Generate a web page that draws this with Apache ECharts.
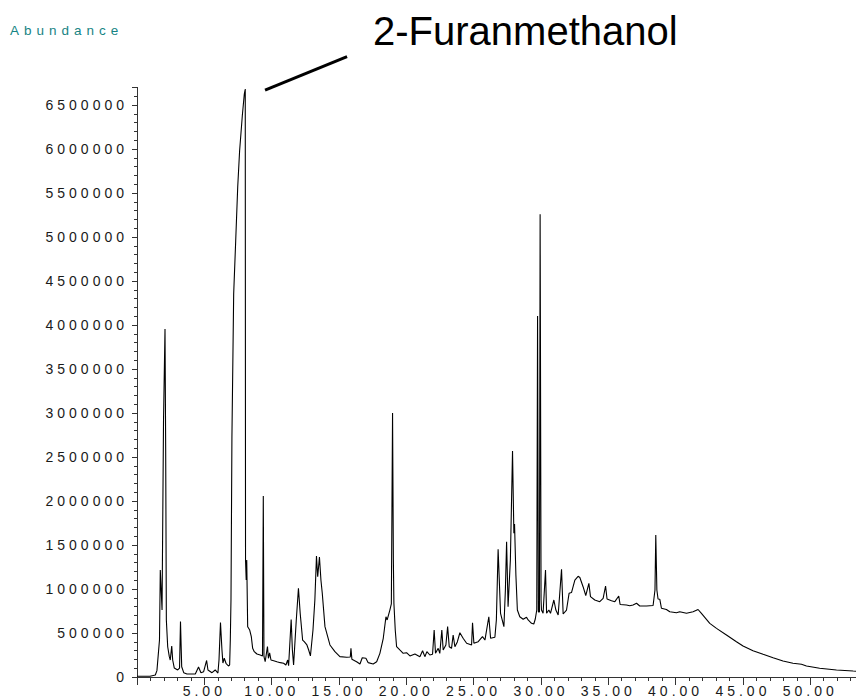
<!DOCTYPE html>
<html>
<head>
<meta charset="utf-8">
<style>
html,body{margin:0;padding:0;background:#fff;}
#main{width:856px;height:700px;}
#main text{letter-spacing:4px;}
#main text[style*="13.5px"]{letter-spacing:5px;}
#main text[style*="40px"]{letter-spacing:0px;}
</style>
<script src="https://cdn.jsdelivr.net/npm/echarts@6/dist/echarts.min.js"></script>
</head>
<body>
<div id="main"></div>
<script>
// Retention time (min)
const times = [
0.00,0.97,1.36,1.48,1.67,1.73,1.86,1.97,2.08,2.13,2.18,2.28,2.40,2.47,2.58,2.65,2.77,3.02,3.16,3.23,
3.32,3.47,3.71,4.33,4.57,4.75,4.95,5.17,5.27,5.57,5.81,6.01,6.09,6.20,6.31,6.38,6.48,6.61,6.79,6.88,
6.93,6.98,7.05,7.18,7.33,7.48,7.62,7.82,7.97,8.04,8.06,8.11,8.15,8.22,8.37,8.49,8.59,8.71,8.91,9.15,
9.32,9.38,9.43,9.52,9.69,9.76,9.85,9.95,10.15,10.39,10.64,10.89,11.06,11.19,11.26,11.45,11.54,11.63,11.83,11.99,
12.12,12.30,12.42,12.62,12.75,12.88,13.07,13.21,13.33,13.42,13.55,13.66,13.76,13.96,14.33,14.70,15.07,15.57,15.84,15.89,
15.96,16.31,16.56,16.73,17.00,17.17,17.54,17.80,18.04,18.29,18.49,18.58,18.78,18.89,18.98,19.04,19.08,19.18,19.28,19.52,
19.77,20.02,20.27,20.64,21.01,21.21,21.38,21.53,21.75,21.95,22.07,22.17,22.37,22.49,22.64,22.74,22.94,23.07,23.19,23.36,
23.48,23.61,23.79,23.98,24.22,24.48,24.85,24.92,25.02,25.34,25.66,25.84,26.13,26.26,26.58,26.69,26.82,27.00,27.25,27.36,
27.45,27.56,27.73,27.89,27.99,28.04,28.14,28.25,28.43,28.68,28.93,29.05,29.30,29.47,29.58,29.69,29.75,29.81,29.89,29.94,
30.01,30.04,30.16,30.34,30.42,30.59,30.71,30.96,31.11,31.28,31.53,31.65,31.90,32.09,32.27,32.52,32.76,32.89,33.13,33.33,
33.56,33.68,34.00,34.37,34.62,34.80,34.91,35.24,35.49,35.78,35.88,36.35,36.60,36.84,37.10,37.34,37.84,38.33,38.47,38.53,
38.61,38.70,38.83,38.95,39.32,39.57,40.07,40.31,40.81,41.30,41.67,41.92,42.54,43.04,43.78,44.52,45.01,45.75,46.50,47.24,
47.98,48.72,49.35,49.72,50.70,51.95,53.19,53.40
];
// Abundance at each retention time
const abundance = [
8000,8000,23000,72000,420000,1216000,761000,2920000,3955000,2580000,648000,344000,231000,193000,352000,193000,102000,80000,102000,631000,
117000,49000,34000,34000,114000,49000,60000,188000,80000,49000,80000,45000,193000,619000,307000,159000,213000,156000,125000,136000,
420000,875000,2727000,4352000,4955000,5568000,5977000,6375000,6625000,6682000,1330000,1102000,1330000,572000,534000,458000,326000,288000,261000,250000,
239000,2057000,231000,174000,347000,213000,273000,193000,185000,174000,163000,156000,136000,193000,128000,653000,307000,136000,648000,1008000,
724000,420000,401000,364000,307000,239000,534000,875000,1375000,1140000,1364000,1102000,951000,572000,364000,288000,231000,224000,227000,326000,
201000,174000,148000,219000,213000,163000,148000,174000,269000,440000,685000,648000,761000,830000,3000000,1330000,838000,534000,344000,307000,
269000,276000,239000,261000,231000,299000,231000,288000,250000,258000,534000,269000,326000,269000,534000,307000,364000,572000,344000,326000,
477000,344000,398000,503000,440000,383000,364000,617000,383000,401000,458000,420000,685000,440000,451000,648000,1451000,724000,572000,989000,
1538000,799000,1330000,2568000,1633000,1739000,1159000,761000,685000,656000,678000,648000,610000,602000,659000,761000,4102000,739000,739000,5258000,
875000,761000,724000,1216000,724000,761000,724000,875000,761000,705000,1224000,716000,761000,951000,960000,1102000,1144000,1131000,1026000,926000,
1065000,913000,875000,856000,894000,1034000,886000,867000,856000,920000,824000,818000,810000,818000,838000,807000,807000,813000,989000,1614000,
989000,886000,883000,781000,767000,742000,731000,742000,724000,742000,767000,724000,610000,553000,477000,401000,352000,299000,258000,219000,
182000,156000,144000,125000,99000,80000,68000,66000
];
// Axis settings
const xTicks = {min: 0, max: 53.4, interval: 5};
const yTicks = {min: 0, max: 6700000, interval: 500000};
// Annotation: compound name and pointer end points (time, abundance)
const peakName = '2-Furanmethanol';
const pointerFrom = [9.51, 6670000];
const pointerTo = [15.60, 7050000];

const seriesData = times.map((t, i) => [t, abundance[i]]);
const chart = echarts.init(document.getElementById('main'), null, {renderer: 'svg'});
const axisColor = '#333';
const font = 'Liberation Sans';
chart.setOption({
  animation: false,
  grid: {left: 137, right: 0, top: 87.4, bottom: 23, containLabel: false},
  xAxis: {
    type: 'value', min: xTicks.min, max: xTicks.max, interval: xTicks.interval,
    axisLine: {show: true, onZero: false, lineStyle: {color: axisColor, width: 1}},
    axisTick: {show: true, length: 8, lineStyle: {color: axisColor}},
    minorTick: {show: true, splitNumber: 5, length: 4, lineStyle: {color: axisColor}},
    splitLine: {show: false},
    axisLabel: {
      showMinLabel: false, showMaxLabel: false, margin: 7,
      color: '#1a1a1a', fontFamily: font, fontSize: 14,
      formatter: v => v.toFixed(2)
    }
  },
  yAxis: {
    type: 'value', min: yTicks.min, max: yTicks.max, interval: yTicks.interval,
    axisLine: {show: true, lineStyle: {color: axisColor, width: 1}},
    axisTick: {show: true, length: 5, lineStyle: {color: axisColor}},
    minorTick: {show: true, splitNumber: 5, length: 3, lineStyle: {color: axisColor}},
    splitLine: {show: false},
    axisLabel: {
      showMaxLabel: false, margin: 9,
      color: '#1a1a1a', fontFamily: font, fontSize: 14,
      formatter: v => String(v)
    }
  },
  series: [{
    type: 'line', data: seriesData, symbol: 'none', clip: true,
    lineStyle: {color: '#000', width: 1.1}
  }]
});
const p1 = chart.convertToPixel({gridIndex: 0}, pointerFrom);
const p2 = chart.convertToPixel({gridIndex: 0}, pointerTo);
chart.setOption({
  graphic: [
    {type: 'text', x: 10, y: 30, style: {text: 'Abundance', fill: '#168484', font: '13.5px "Liberation Sans"', textVerticalAlign: 'middle'}},
    {type: 'text', x: 373, y: 31, style: {text: peakName, fill: '#000', font: '40px "Liberation Sans"', textVerticalAlign: 'middle'}},
    {type: 'line', shape: {x1: p1[0], y1: p1[1], x2: p2[0], y2: p2[1]}, style: {stroke: '#000', lineWidth: 3}}
  ]
});
</script>
</body>
</html>
